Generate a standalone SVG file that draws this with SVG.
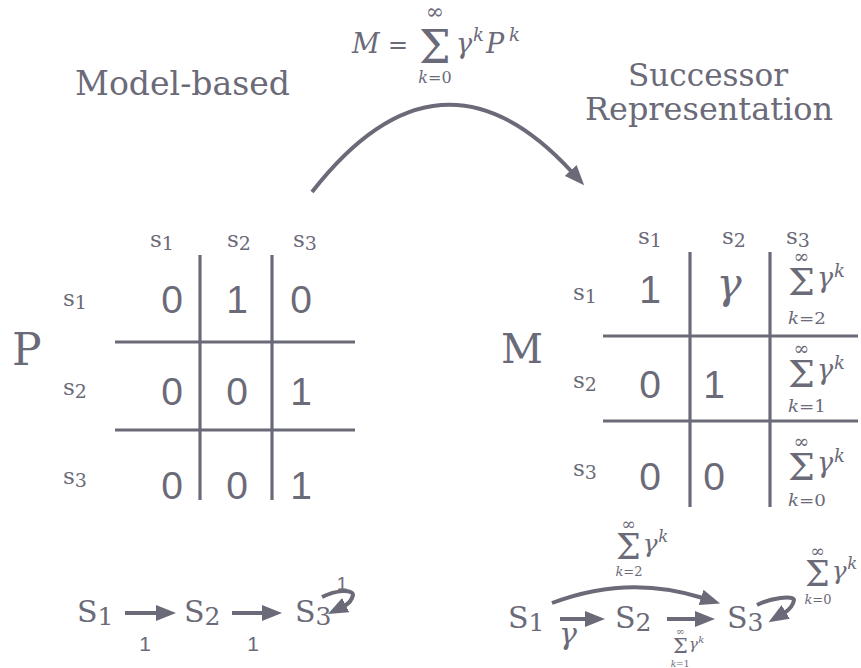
<svg xmlns="http://www.w3.org/2000/svg" xmlns:xlink="http://www.w3.org/1999/xlink" width="861" height="668" viewBox="0 0 861 668">
<style>
text{fill:#6b6a78}
.ser{font-family:"DejaVu Serif","Liberation Serif",serif}
.math{font-family:"DejaVu Serif","Liberation Serif",serif}
.it{font-style:italic}
.sans{font-family:"Liberation Sans",Arial,sans-serif}
.lab{font-family:"DejaVu Serif","Liberation Serif",serif;font-size:23px}
.dig{font-family:"Liberation Sans",Arial,sans-serif;font-size:39px;text-anchor:middle}
.ln{stroke:#6b6a78;stroke-width:3.2;fill:none}
.ar{stroke:#6b6a78;fill:none;stroke-width:4}
</style>
<defs>
<marker id="ah" viewBox="0 0 20 16" refX="2" refY="8" markerWidth="20" markerHeight="16" markerUnits="userSpaceOnUse" orient="auto"><path d="M0,0L20,8L0,16z" fill="#6b6a78"/></marker>
<g id="sumb">
<text class="math" x="0" y="0" font-size="38">Σ</text>
<text class="math" x="13.5" y="-32" font-size="19" text-anchor="middle">∞</text>
<text class="math it" x="29" y="-8" font-size="27">γ</text>
<text class="math it" x="46" y="-18" font-size="18">k</text>
</g>
</defs>

<g id="title-model">
<text class="ser" x="75" y="95" font-size="33" textLength="215" lengthAdjust="spacingAndGlyphs">Model-based</text>
</g>
<g id="title-sr">
<text class="ser" x="708" y="86" font-size="32" text-anchor="middle" textLength="160" lengthAdjust="spacingAndGlyphs">Successor</text>
<text class="ser" x="709" y="120" font-size="32" text-anchor="middle" textLength="248" lengthAdjust="spacingAndGlyphs">Representation</text>
</g>

<g id="formula">
<text class="math it" x="352" y="53" font-size="27">M</text>
<text class="math" x="388" y="53" font-size="24">=</text>
<text class="math" x="0" y="0" font-size="44" transform="translate(419,63) scale(1.02,1.05)">Σ</text>
<text class="math" x="435" y="19" font-size="22" text-anchor="middle">∞</text>
<text class="math" x="435" y="83" font-size="16" text-anchor="middle"><tspan class="it">k</tspan>=0</text>
<text class="math it" x="456" y="53" font-size="27">γ</text>
<text class="math it" x="473" y="41" font-size="18">k</text>
<text class="math it" x="486" y="53" font-size="27">P</text>
<text class="math it" x="509" y="41" font-size="18">k</text>
</g>

<g id="connectors">
<path class="ar" d="M312,192 Q440,28 572,172" stroke-width="3.5" marker-end="url(#ah)"/>
<line class="ar" x1="125" y1="613" x2="158" y2="613" marker-end="url(#ah)"/>
<line class="ar" x1="232" y1="613" x2="264" y2="613" marker-end="url(#ah)"/>
<path class="ar" d="M322,597 C336,590 353,589 353,595 C352,600 348,604 344,606" marker-end="url(#ah)"/>
<line class="ar" x1="560" y1="619" x2="587" y2="619" marker-end="url(#ah)"/>
<line class="ar" x1="667" y1="619" x2="697" y2="619" marker-end="url(#ah)"/>
<path class="ar" d="M552,603 Q628,574 703,598" marker-end="url(#ah)"/>
<path class="ar" d="M757,605 C770,598 794,595 794,600 C793,606 789,610 784,613" marker-end="url(#ah)"/>
</g>

<g id="matrix-P">
<text class="ser" x="12" y="365" font-size="44">P</text>
<text class="lab" x="150" y="247">s<tspan font-size="19" dy="3">1</tspan></text>
<text class="lab" x="227" y="247">s<tspan font-size="19" dy="3">2</tspan></text>
<text class="lab" x="293" y="247">s<tspan font-size="19" dy="3">3</tspan></text>
<text class="lab" x="63" y="306">s<tspan font-size="19" dy="3">1</tspan></text>
<text class="lab" x="63" y="395">s<tspan font-size="19" dy="3">2</tspan></text>
<text class="lab" x="63" y="484">s<tspan font-size="19" dy="3">3</tspan></text>
<line class="ln" x1="200" y1="255" x2="200" y2="500"/>
<line class="ln" x1="272" y1="255" x2="272" y2="500"/>
<line class="ln" x1="115" y1="342" x2="355" y2="342"/>
<line class="ln" x1="115" y1="430" x2="355" y2="430"/>
<text class="dig" x="172" y="313">0</text>
<text class="dig" x="237" y="313">1</text>
<text class="dig" x="301" y="313">0</text>
<text class="dig" x="172" y="405">0</text>
<text class="dig" x="237" y="405">0</text>
<text class="dig" x="301" y="405">1</text>
<text class="dig" x="172" y="499">0</text>
<text class="dig" x="237" y="499">0</text>
<text class="dig" x="301" y="499">1</text>
</g>

<g id="matrix-M">
<text class="ser" x="501" y="363" font-size="41">M</text>
<text class="lab" x="638" y="244">s<tspan font-size="19" dy="3">1</tspan></text>
<text class="lab" x="722" y="244">s<tspan font-size="19" dy="3">2</tspan></text>
<text class="lab" x="786" y="244">s<tspan font-size="19" dy="3">3</tspan></text>
<text class="lab" x="573" y="300">s<tspan font-size="19" dy="3">1</tspan></text>
<text class="lab" x="573" y="388">s<tspan font-size="19" dy="3">2</tspan></text>
<text class="lab" x="573" y="476">s<tspan font-size="19" dy="3">3</tspan></text>
<line class="ln" x1="690" y1="252" x2="690" y2="507"/>
<line class="ln" x1="770" y1="252" x2="770" y2="507"/>
<line class="ln" x1="603" y1="336" x2="858" y2="336"/>
<line class="ln" x1="603" y1="421" x2="858" y2="421"/>
<text class="dig" x="650" y="303">1</text>
<text class="math it" x="729" y="298" font-size="42" text-anchor="middle">γ</text>
<text class="dig" x="650" y="398">0</text>
<text class="dig" x="714" y="398">1</text>
<text class="dig" x="650" y="490">0</text>
<text class="dig" x="714" y="490">0</text>
<use xlink:href="#sumb" transform="translate(788,295)"/>
<text class="math" x="807" y="324" font-size="17" text-anchor="middle" textLength="38" lengthAdjust="spacingAndGlyphs"><tspan class="it">k</tspan>=2</text>
<use xlink:href="#sumb" transform="translate(788,387)"/>
<text class="math" x="807" y="412" font-size="17" text-anchor="middle" textLength="38" lengthAdjust="spacingAndGlyphs"><tspan class="it">k</tspan>=1</text>
<use xlink:href="#sumb" transform="translate(788,480)"/>
<text class="math" x="807" y="506" font-size="17" text-anchor="middle" textLength="38" lengthAdjust="spacingAndGlyphs"><tspan class="it">k</tspan>=0</text>
</g>

<g id="chain-left">
<text class="ser" x="77" y="622" font-size="30">S<tspan font-size="25" dy="3">1</tspan></text>
<text class="ser" x="184" y="622" font-size="30">S<tspan font-size="25" dy="3">2</tspan></text>
<text class="ser" x="295" y="622" font-size="30">S<tspan font-size="25" dy="3">3</tspan></text>
<text class="sans" x="145" y="651" font-size="21" text-anchor="middle">1</text>
<text class="sans" x="253" y="651" font-size="21" text-anchor="middle">1</text>
<text class="sans" x="342" y="590" font-size="19" text-anchor="middle">1</text>
</g>

<g id="chain-right">
<text class="ser" x="508" y="628" font-size="30">S<tspan font-size="25" dy="3">1</tspan></text>
<text class="ser" x="615" y="628" font-size="30">S<tspan font-size="25" dy="3">2</tspan></text>
<text class="ser" x="727" y="628" font-size="30">S<tspan font-size="25" dy="3">3</tspan></text>
<text class="math it" x="568" y="644" font-size="30" text-anchor="middle">γ</text>
<use xlink:href="#sumb" transform="translate(616,559) scale(0.92)"/>
<text class="math" x="629" y="576" font-size="13" text-anchor="middle"><tspan class="it">k</tspan>=2</text>
<use xlink:href="#sumb" transform="translate(805,586) scale(0.92)"/>
<text class="math" x="818" y="604" font-size="13" text-anchor="middle"><tspan class="it">k</tspan>=0</text>
<use xlink:href="#sumb" transform="translate(673,653) scale(0.55)"/>
<text class="math" x="680" y="667" font-size="9" text-anchor="middle"><tspan class="it">k</tspan>=1</text>
</g>
</svg>
